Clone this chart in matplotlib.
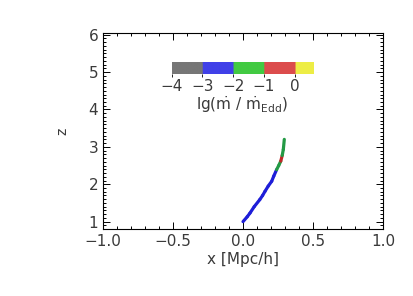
import numpy as np
import matplotlib
matplotlib.use('Agg')
import matplotlib.pyplot as plt
from matplotlib.colors import ListedColormap, BoundaryNorm
from matplotlib.collections import LineCollection
from matplotlib.ticker import MultipleLocator

# trajectory of the black hole (x in Mpc/h, redshift z) and accretion rate per segment
traj_x = [0.0, 0.03, 0.05, 0.08, 0.12, 0.14, 0.157, 0.18, 0.205, 0.22, 0.24, 0.255, 0.27, 0.28, 0.288, 0.295]
traj_z = [1.0, 1.13, 1.23, 1.40, 1.59, 1.70, 1.81, 1.95, 2.08, 2.22, 2.39, 2.50, 2.62, 2.77, 2.93, 3.20]
lg_mdot = [-2.5, -2.6, -2.5, -2.4, -2.5, -2.6, -2.5, -2.4, -2.5, -2.5, -1.6, -1.5, -0.5, -1.5, -1.6]

cb_bounds = [-4, -3, -2, -1, 0, 0.6]
cb_colors = ['#666666', '#2a2ae6', '#2cc42c', '#d83838', '#ecec30']
cb_ticks = [-4, -3, -2, -1, 0]

txt = '#3a3a3a'
plt.rcParams['mathtext.fontset'] = 'dejavusans'

fig = plt.figure(figsize=(4.14, 2.96), dpi=100)
ax = fig.add_axes([0.249, 0.226, 0.676, 0.663])

cmap = ListedColormap(cb_colors)
norm = BoundaryNorm(cb_bounds, cmap.N)
# the track is drawn a bit darker than the bar
line_cmap = ListedColormap(['#555555', '#1e1ed8', '#239a45', '#c02828', '#d8d820'])

pts = np.column_stack([traj_x, traj_z])
segs = np.stack([pts[:-1], pts[1:]], axis=1)
lc = LineCollection(segs, cmap=line_cmap, norm=norm, linewidths=2.3, capstyle='round')
lc.set_array(np.array(lg_mdot))
ax.add_collection(lc)

ax.set_xlim(-1, 1)
ax.set_ylim(0.8, 6.05)
ax.set_xticks([-1.0, -0.5, 0.0, 0.5, 1.0])
ax.set_xticklabels(['\u22121.0', '\u22120.5', '0.0', '0.5', '1.0'])
ax.set_yticks([1, 2, 3, 4, 5, 6])
ax.xaxis.set_minor_locator(MultipleLocator(0.1))
ax.yaxis.set_minor_locator(MultipleLocator(0.1))
ax.tick_params(which='both', direction='in', top=True, right=True, colors='black',
               labelcolor=txt, labelsize=11, width=0.7)
ax.tick_params(which='major', length=5)
ax.tick_params(which='minor', length=2.5)
for s in ax.spines.values():
    s.set_linewidth(0.8)
ax.set_xlabel('x [Mpc/h]', color=txt, fontsize=11, labelpad=2)
ax.set_ylabel('z', color=txt, fontsize=10, labelpad=14)

# colour bar
cax = fig.add_axes([0.415, 0.75, 0.341, 0.04])
vals = np.linspace(-4, 0.6, 300).reshape(1, -1)
cax.imshow(vals, cmap=cmap, norm=norm, aspect='auto', extent=[-4, 0.6, 0, 1], alpha=0.9)
cax.set_xlim(-4, 0.6)
cax.set_yticks([])
cax.set_xticks(cb_ticks)
cax.set_xticklabels(['\u22124', '\u22123', '\u22122', '\u22121', '0'])
cax.tick_params(direction='out', length=2.5, width=0.6, labelcolor=txt, labelsize=11, pad=1)
for s in cax.spines.values():
    s.set_visible(False)
cax.set_xlabel(r'lg($\dot{\rm m}$ / $\dot{\rm m}_{\rm Edd}$)', color=txt, fontsize=11, labelpad=0)

fig.savefig('out.png', dpi=100)
